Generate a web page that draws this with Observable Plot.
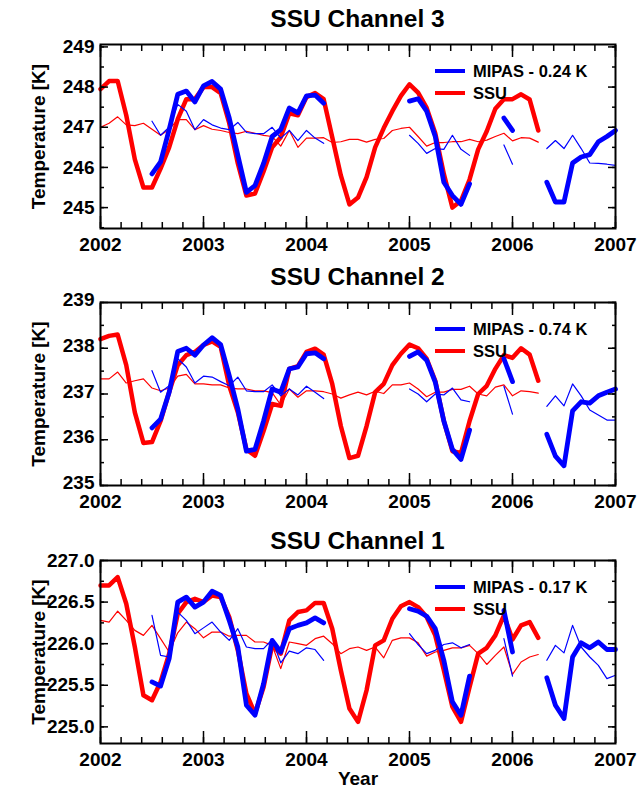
<!DOCTYPE html>
<html><head><meta charset="utf-8">
<script src="https://cdn.jsdelivr.net/npm/d3@7"></script>
<script src="https://cdn.jsdelivr.net/npm/@observablehq/plot@0.6"></script>
<style>
body{margin:0;background:#fff;font-family:"Liberation Sans",Arial,Helvetica,sans-serif;}
#root{position:relative;width:638px;height:790px;overflow:hidden;background:#fff}
.panel{position:absolute;left:0}
.title{position:absolute;left:100px;width:515px;text-align:center;font-weight:bold;font-size:24.5px;line-height:26px;color:#000}
.legrow{position:absolute;left:435px;height:24px;display:flex;align-items:center}
.legline{width:30px;height:4px}
.legtxt{margin-left:8px;font-weight:bold;font-size:16.5px;color:#000;line-height:24px}
</style></head>
<body><div id="root"></div>
<script>
// ---------------- data ----------------
const startYear = 2002;                    // first monthly sample = Jan 2002
const xYears = [2002, 2003, 2004, 2005, 2006, 2007];
const mipasSegStart = [6, 36, 47, 52];     // month index where each MIPAS segment starts
const seriesNames = ["MIPAS", "SSU"];

// Channel 3
const ssu3 = [247.95, 248.15, 248.15, 247.3, 246.2, 245.5, 245.5, 245.97, 246.5, 247.2,
  247.7, 247.7, 248.0, 248.0, 247.85, 247.1, 246.1, 245.3, 245.35, 245.9,
  246.5, 246.75, 247.35, 247.3, 247.75, 247.85, 247.7, 246.75, 245.8, 245.08,
  245.25, 245.76, 246.5, 246.98, 247.4, 247.78, 248.07, 247.86, 247.48, 246.85,
  245.84, 245.0, 245.17, 245.7, 246.45, 246.9, 247.46, 247.7, 247.7, 247.82,
  247.69, 246.92];
const ssuAnom3 = [247.0, 247.1, 247.26, 247.06, 247.04, 247.1, 246.95, 246.8, 246.95, 247.19,
  247.19, 246.94, 247.04, 246.95, 246.92, 246.87, 246.84, 246.9, 246.85, 246.8,
  246.77, 246.53, 246.92, 246.5, 246.73, 246.73, 246.74, 246.62, 246.64, 246.7,
  246.7, 246.63, 246.7, 246.72, 246.92, 246.97, 247.0, 246.77, 246.53, 246.62,
  246.62, 246.64, 246.64, 246.7, 246.64, 246.68, 246.77, 246.85, 246.66, 246.74,
  246.73, 246.63];
const mipas3 = [
  [245.84, 246.14, 246.94, 247.82, 247.9, 247.63, 248.03, 248.14, 247.95, 247.23, 246.3,
   245.38, 245.55, 246.1, 246.77, 246.94, 247.48, 247.36, 247.78, 247.8, 247.6],
  [247.65, 247.71, 247.4, 246.77, 245.63, 245.3, 245.08, 245.59],
  [247.23, 246.92],
  [245.63, 245.14, 245.14, 246.11, 246.26, 246.32, 246.64, 246.77, 246.92]];
const mipasAnom3 = [
  [247.15, 246.8, 247.0, 247.57, 247.4, 246.94, 247.19, 247.06, 246.98, 246.94, 247.12,
   246.87, 246.84, 246.84, 247.0, 246.73, 246.92, 246.67, 246.92, 246.73, 246.6],
  [246.8, 246.6, 246.35, 246.47, 246.45, 246.8, 246.45, 246.3],
  [246.56, 246.08],
  [246.47, 246.67, 246.47, 246.8, 246.47, 246.11, 246.1, 246.08, 246.05]];

// Channel 2
const ssu2 = [238.2, 238.27, 238.3, 237.63, 236.6, 235.93, 235.95, 236.41, 237.04, 237.63,
  237.85, 237.92, 238.07, 238.15, 238.03, 237.18, 236.6, 235.79, 235.65, 236.19,
  236.78, 236.74, 237.55, 237.61, 237.92, 237.99, 237.86, 237.22, 236.3, 235.6,
  235.65, 236.3, 237.04, 237.22, 237.63, 237.88, 238.08, 238.0, 237.77, 237.29,
  236.41, 235.75, 235.71, 236.41, 237.0, 237.18, 237.55, 237.85, 237.79, 238.0,
  237.86, 237.29];
const ssuAnom2 = [237.33, 237.33, 237.48, 237.24, 237.29, 237.33, 237.13, 237.07, 237.13, 237.39,
  237.43, 237.22, 237.22, 237.2, 237.2, 237.13, 237.11, 237.11, 237.07, 237.07,
  237.03, 236.76, 237.11, 236.93, 237.07, 237.07, 237.05, 237.0, 236.91, 236.98,
  237.04, 236.98, 237.06, 237.01, 237.2, 237.2, 237.24, 237.11, 236.94, 237.04,
  237.04, 237.1, 237.1, 237.17, 237.0, 236.96, 237.15, 237.2, 236.96, 237.07,
  237.05, 237.02];
const mipas2 = [
  [236.26, 236.45, 237.04, 237.93, 238.0, 237.85, 238.07, 238.23, 238.08, 237.4, 236.67,
   235.75, 235.79, 236.41, 237.11, 237.04, 237.55, 237.59, 237.88, 237.9, 237.77],
  [237.82, 237.92, 237.74, 237.26, 236.41, 235.79, 235.57, 236.21],
  [237.77, 237.27],
  [236.12, 235.64, 235.43, 236.63, 236.83, 236.8, 236.96, 237.04, 237.11]];
const mipasAnom2 = [
  [237.51, 237.04, 237.18, 237.77, 237.59, 237.24, 237.39, 237.37, 237.27, 237.18, 237.37,
   237.07, 237.05, 237.05, 237.2, 236.96, 237.11, 236.98, 237.17, 237.04, 236.9],
  [237.11, 237.0, 236.83, 237.0, 236.98, 237.13, 236.87, 236.83],
  [237.17, 236.56],
  [236.73, 236.96, 236.74, 237.22, 236.96, 236.65, 236.54, 236.43, 236.43]];

// Channel 1
const ssu1 = [226.7, 226.7, 226.8, 226.48, 225.96, 225.38, 225.32, 225.54, 225.88, 226.36,
  226.5, 226.54, 226.5, 226.58, 226.56, 226.32, 225.92, 225.4, 225.16, 225.48,
  225.98, 225.88, 226.28, 226.38, 226.4, 226.49, 226.49, 226.18, 225.68, 225.22,
  225.06, 225.44, 225.98, 226.04, 226.3, 226.45, 226.5, 226.44, 226.32, 226.1,
  225.68, 225.24, 225.06, 225.48, 225.88, 225.95, 226.1, 226.34, 226.05, 226.22,
  226.26, 226.07];
const ssuAnom1 = [226.28, 226.26, 226.39, 226.28, 226.16, 226.1, 226.22, 226.06, 225.9, 226.13,
  226.26, 226.18, 226.07, 226.14, 226.14, 226.09, 226.1, 226.1, 226.02, 226.02,
  225.98, 225.7, 226.02, 226.0, 225.98, 226.06, 226.09, 226.0, 225.88, 225.94,
  225.96, 225.92, 225.96, 225.83, 226.04, 226.07, 226.07, 226.01, 225.85, 225.9,
  225.92, 225.95, 225.95, 225.98, 225.88, 225.75, 225.86, 225.96, 225.63, 225.78,
  225.84, 225.87];
const mipas1 = [
  [225.54, 225.49, 225.82, 226.5, 226.56, 226.44, 226.5, 226.63, 226.58, 226.28, 225.96,
   225.26, 225.14, 225.52, 226.04, 225.9, 226.18, 226.22, 226.25, 226.31, 226.25],
  [226.42, 226.39, 226.33, 226.18, 225.8, 225.3, 225.14, 225.61],
  [226.4, 225.9],
  [225.59, 225.26, 225.1, 225.84, 226.01, 225.95, 226.02, 225.93, 225.93]];
const mipasAnom1 = [
  [226.34, 225.86, 225.84, 226.38, 226.28, 226.12, 226.19, 226.26, 226.14, 226.04, 226.18,
   225.96, 225.94, 225.94, 226.05, 225.77, 225.91, 225.88, 225.95, 225.93, 225.8],
  [226.12, 225.99, 225.88, 225.92, 225.99, 226.01, 225.95, 225.99],
  [226.06, 225.61],
  [225.8, 225.98, 225.89, 226.22, 225.96, 225.84, 225.74, 225.58, 225.62]];

const titles = ["SSU Channel 3", "SSU Channel 2", "SSU Channel 1"];
const offsets = ["0.24 K", "0.74 K", "0.17 K"];
const yTicks3 = [245, 246, 247, 248, 249];
const yTicks2 = [235, 236, 237, 238, 239];
const yTicks1 = [225.0, 225.5, 226.0, 226.5, 227.0];

// ---------------- layout (not data) ----------------
const panels = [
  {title: titles[0], off: offsets[0], ssu: ssu3, ssuA: ssuAnom3, mip: mipas3, mipA: mipasAnom3,
   yTicks: yTicks3, yMinorStep: 0.5, yDomain: [244.48, 249.06], fmt: d => String(d), labelDy: 0,
   titleY: 19, top: 30, mt: 14, mb: 30, h: 228, year: false},
  {title: titles[1], off: offsets[1], ssu: ssu2, ssuA: ssuAnom2, mip: mipas2, mipA: mipasAnom2,
   yTicks: yTicks2, yMinorStep: 0.5, yDomain: [235, 239], fmt: d => String(d), labelDy: -2.5,
   titleY: 277, top: 288, mt: 14, mb: 30, h: 227, year: false},
  {title: titles[2], off: offsets[2], ssu: ssu1, ssuA: ssuAnom1, mip: mipas1, mipA: mipasAnom1,
   yTicks: yTicks1, yMinorStep: 0.25, yDomain: [224.8, 227.0], fmt: d => d.toFixed(1), labelDy: 0,
   titleY: 541, top: 546, mt: 14, mb: 47, h: 244, year: true}
];

const W = 638, ML = 100, MR = 23;
const RED = "#ff0000", BLUE = "#0000ff";
const FONT = "'Liberation Sans', Arial, Helvetica, sans-serif";

const rows = (vals, start, s = 0) => vals.map((v, k) => ({t: startYear + (start + k) / 12, v, s}));
const segRows = segs => segs.flatMap((seg, s) => rows(seg, mipasSegStart[s], s));

const xMinor = d3.range(0, 26).map(k => xYears[0] + k * 0.2);

const root = document.getElementById("root");

panels.forEach(p => {
  const yMinor = d3.range(Math.ceil(p.yDomain[0] / p.yMinorStep) * p.yMinorStep, p.yDomain[1] + 1e-9, p.yMinorStep);
  const axisStyle = {stroke: "black", strokeWidth: 1.5, fill: "none", label: null};
  const chart = Plot.plot({
    width: W, height: p.h,
    marginLeft: ML, marginRight: MR, marginTop: p.mt, marginBottom: p.mb,
    x: {domain: [xYears[0], xYears[xYears.length - 1]], label: null},
    y: {domain: p.yDomain, label: null},
    style: {fontFamily: FONT, fontSize: "19px", fontWeight: "bold", color: "black", background: "white", overflow: "visible"},
    marks: [
      Plot.line(rows(p.ssu, 0), {x: "t", y: "v", stroke: RED, strokeWidth: 4.5}),
      Plot.line(rows(p.ssuA, 0), {x: "t", y: "v", stroke: RED, strokeWidth: 1.2}),
      Plot.line(segRows(p.mip), {x: "t", y: "v", z: "s", stroke: BLUE, strokeWidth: 4.8}),
      Plot.line(segRows(p.mipA), {x: "t", y: "v", z: "s", stroke: BLUE, strokeWidth: 1.2}),
      // inward ticks
      Plot.axisX(xMinor, {...axisStyle, anchor: "bottom", tickSize: 6, dy: -6}),
      Plot.axisX(xYears, {...axisStyle, anchor: "bottom", tickSize: 12, dy: -12}),
      Plot.axisX(xMinor, {...axisStyle, anchor: "top", tickSize: 6, dy: 6}),
      Plot.axisX(xYears, {...axisStyle, anchor: "top", tickSize: 12, dy: 12}),
      Plot.axisY(yMinor, {...axisStyle, anchor: "left", tickSize: 4, dx: 4}),
      Plot.axisY(p.yTicks, {...axisStyle, anchor: "left", tickSize: 8, dx: 8}),
      Plot.axisY(yMinor, {...axisStyle, anchor: "right", tickSize: 4, dx: -4}),
      Plot.axisY(p.yTicks, {...axisStyle, anchor: "right", tickSize: 8, dx: -8}),
      // labels
      Plot.axisX(xYears, {anchor: "bottom", tickSize: 0, tickPadding: 9, tickFormat: d => String(d), label: null, fill: "black", fontSize: 19, fontWeight: "bold"}),
      Plot.axisY(p.yTicks, {anchor: "left", tickSize: 0, tickPadding: 6, tickFormat: p.fmt, label: null, fill: "black", fontSize: 19, fontWeight: "bold", dy: p.labelDy}),
      Plot.text(["Temperature [K]"], {frameAnchor: "left", dx: -62, rotate: -90, textAnchor: "middle", lineAnchor: "middle", fontSize: 19, fontWeight: "bold", fill: "black"}),
      p.year ? Plot.text(["Year"], {frameAnchor: "bottom", dy: 35, lineAnchor: "middle", fontSize: 19, fontWeight: "bold", fill: "black"}) : null,
      Plot.frame({stroke: "black", strokeWidth: 2})
    ]
  });
  chart.classList.add("panel");
  chart.style.top = p.top + "px";
  root.appendChild(chart);

  const t = document.createElement("div");
  t.className = "title";
  t.textContent = p.title;
  t.style.top = (p.titleY - 13) + "px";
  root.appendChild(t);

  const frameTop = p.top + p.mt;
  [[BLUE, seriesNames[0] + " - " + p.off, 26.5], [RED, seriesNames[1], 48.5]].forEach(([c, label, dyy]) => {
    const r = document.createElement("div");
    r.className = "legrow";
    r.style.top = (frameTop + dyy - 12) + "px";
    const ln = document.createElement("div");
    ln.className = "legline";
    ln.style.background = c;
    const tx = document.createElement("div");
    tx.className = "legtxt";
    tx.textContent = label;
    r.appendChild(ln); r.appendChild(tx);
    root.appendChild(r);
  });
});
</script>
</body></html>
